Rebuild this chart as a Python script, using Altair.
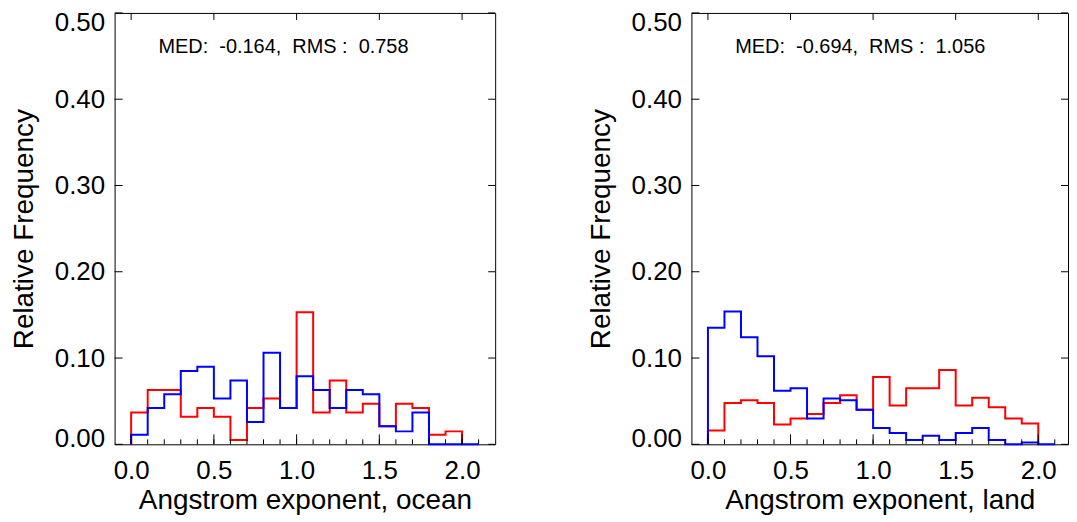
import altair as alt
import pandas as pd

# ---------------- data ----------------
BIN_START = 0.0
BIN_WIDTH = 0.1

ocean_red = [0.037, 0.063, 0.063, 0.032, 0.042, 0.032, 0.005, 0.042, 0.053, 0.042,
             0.153, 0.037, 0.074, 0.037, 0.047, 0.021, 0.047, 0.042, 0.011, 0.015]
ocean_blue = [0.011, 0.042, 0.058, 0.085, 0.090, 0.053, 0.074, 0.026, 0.106, 0.042,
              0.079, 0.063, 0.042, 0.063, 0.058, 0.021, 0.015, 0.037, 0.0, 0.0, 0.0]
land_red = [0.016, 0.048, 0.051, 0.048, 0.023, 0.030, 0.035, 0.048, 0.057, 0.040,
            0.078, 0.045, 0.065, 0.065, 0.086, 0.045, 0.054, 0.043, 0.030, 0.024]
land_blue = [0.135, 0.154, 0.124, 0.102, 0.062, 0.065, 0.030, 0.053, 0.051, 0.040,
             0.019, 0.013, 0.005, 0.010, 0.005, 0.013, 0.019, 0.005, 0.0, 0.002, 0.0]

panel_titles = ["Angstrom exponent, ocean", "Angstrom exponent, land"]
med_values = [-0.164, -0.694]
rms_values = [0.758, 1.056]

x_major_ticks = [0.0, 0.5, 1.0, 1.5, 2.0]
x_minor_ticks = [0.0, 0.1, 0.2, 0.3, 0.4, 0.5, 0.6, 0.7, 0.8, 0.9, 1.0,
                 1.1, 1.2, 1.3, 1.4, 1.5, 1.6, 1.7, 1.8, 1.9, 2.0, 2.1]
y_ticks = [0.0, 0.1, 0.2, 0.3, 0.4, 0.5]

FONT = "Liberation Sans"
H = 433


def outline(vals):
    xs, ys = [BIN_START], [0.0]
    for i, v in enumerate(vals):
        lo = BIN_START + i * BIN_WIDTH
        xs += [lo, lo + BIN_WIDTH]
        ys += [v, v]
    xs.append(BIN_START + len(vals) * BIN_WIDTH)
    ys.append(0.0)
    return pd.DataFrame({"x": xs, "y": ys, "i": list(range(len(xs)))})


def panel(title, red, blue, med, rms, width, xmax):
    xs = alt.Scale(domain=[-0.1, xmax], nice=False, zero=False)
    ys = alt.Scale(domain=[0, 0.5], nice=False, zero=False)
    xaxis = alt.Axis(title=title, values=x_major_ticks, format=".1f",
                     labelPadding=13, titlePadding=3)
    yaxis = alt.Axis(
        title="Relative Frequency", values=y_ticks, format=".2f",
        labelPadding=10, titlePadding=16,
        labelOffset={"condition": [{"test": "datum.value >= 0.49", "value": 10},
                                   {"test": "datum.value <= 0.01", "value": -6}],
                     "value": 0})
    X = alt.X("x:Q", scale=xs, axis=xaxis)
    Y = alt.Y("y:Q", scale=ys, axis=yaxis)

    red_line = alt.Chart(outline(red)).mark_line(
        color="#ff0000", strokeWidth=2).encode(x=X, y=Y, order="i:Q")
    blue_line = alt.Chart(outline(blue)).mark_line(
        color="#0000ff", strokeWidth=2).encode(x=X, y=Y, order="i:Q")

    minor = alt.Chart(pd.DataFrame({"x": x_minor_ticks})).mark_rule(
        color="black", strokeWidth=1).encode(
        x=X, y=alt.value(H), y2=alt.value(H - 5))
    major = alt.Chart(pd.DataFrame({"x": x_major_ticks})).mark_rule(
        color="black", strokeWidth=1).encode(
        x=X, y=alt.value(H), y2=alt.value(H - 10))
    top = alt.Chart(pd.DataFrame({"x": x_major_ticks})).mark_rule(
        color="black", strokeWidth=1).encode(
        x=X, y=alt.value(0), y2=alt.value(7))
    left = alt.Chart(pd.DataFrame({"y": y_ticks})).mark_rule(
        color="black", strokeWidth=1).encode(
        y=Y, x=alt.value(0), x2=alt.value(8))
    right = alt.Chart(pd.DataFrame({"y": y_ticks})).mark_rule(
        color="black", strokeWidth=1).encode(
        y=Y, x=alt.value(width), x2=alt.value(width - 7))

    label = f"MED:\u00a0 {med:.3f},\u00a0 RMS :\u00a0 {rms:.3f}"
    txt = alt.Chart(pd.DataFrame({"label": [label]})).mark_text(
        align="left", baseline="alphabetic", fontSize=20, font=FONT,
        color="black").encode(text="label:N", x=alt.value(44), y=alt.value(40))

    return alt.layer(red_line, blue_line, minor, major, top, left, right, txt
                     ).properties(width=width, height=H)


left_panel = panel(panel_titles[0], ocean_red, ocean_blue,
                   med_values[0], rms_values[0], 382, 2.2)
right_panel = panel(panel_titles[1], land_red, land_blue,
                    med_values[1], rms_values[1], 378, 2.18)

chart = alt.hconcat(left_panel, right_panel, spacing=90).properties(
    padding={"left": 1, "top": 0, "right": 0, "bottom": 0}
).configure_view(
    stroke="black", strokeWidth=1
).configure_axis(
    labelFont=FONT, titleFont=FONT, labelFontSize=26, titleFontSize=28,
    labelColor="black", titleColor="black", titleFontWeight="normal",
    grid=False, domain=False, ticks=False, tickSize=0
)

chart.save("out.html", embed_options={"renderer": "svg", "actions": False})
